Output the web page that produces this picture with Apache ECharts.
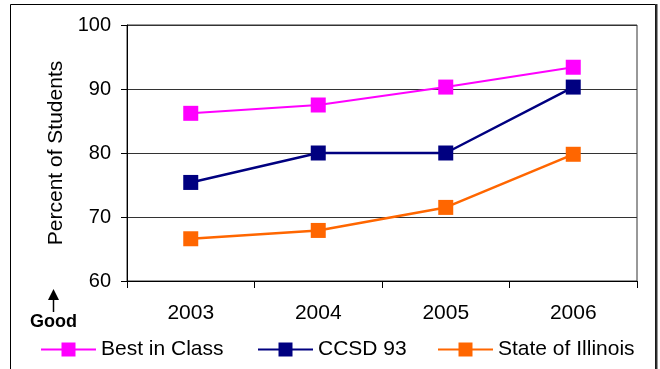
<!DOCTYPE html>
<html>
<head>
<meta charset="utf-8">
<script src="https://cdn.jsdelivr.net/npm/echarts@6/dist/echarts.min.js"></script>
<style>
  html, body { margin: 0; padding: 0; background: #fff; }
  #chart { width: 660px; height: 369px; }
</style>
</head>
<body>
<div id="chart"></div>
<script>
// Categories and values
const years = ['2003', '2004', '2005', '2006'];
const bestInClass = [86.2, 87.5, 90.3, 93.4];
const ccsd93 = [75.4, 80, 80, 90.3];
const stateOfIllinois = [66.6, 67.9, 71.5, 79.8];
const yTicks = [60, 70, 80, 90, 100];

const seriesNames = ['Best in Class', 'CCSD 93', 'State of Illinois'];
const seriesColors = ['#FF00FF', '#000080', '#FF6600'];
const seriesData = [bestInClass, ccsd93, stateOfIllinois];
const lineWidths = [2, 2.5, 2.5];
const legendLefts = [40, 257, 437];

const font = 'Arial, "Liberation Sans", sans-serif';

const chart = echarts.init(document.getElementById('chart'), null, { renderer: 'canvas' });

const option = {
  animation: false,
  backgroundColor: '#fff',
  textStyle: { fontFamily: font, color: '#000' },
  grid: {
    left: 127, top: 25, width: 510, height: 256,
    show: true, borderColor: '#333', borderWidth: 1, backgroundColor: 'transparent'
  },
  xAxis: {
    type: 'category',
    data: years,
    boundaryGap: true,
    axisLine: { show: true, lineStyle: { color: '#000', width: 1 } },
    axisTick: { show: true, length: 7, inside: false, lineStyle: { color: '#000' } },
    axisLabel: { fontSize: 21, color: '#000', margin: 22, fontFamily: font }
  },
  yAxis: {
    type: 'value',
    min: yTicks[0],
    max: yTicks[yTicks.length - 1],
    interval: 10,
    name: 'Percent of Students',
    nameLocation: 'middle',
    nameRotate: 90,
    nameGap: 60,
    nameTextStyle: { fontSize: 21, color: '#000', fontFamily: font },
    axisLine: { show: true, lineStyle: { color: '#000', width: 1 } },
    axisTick: { show: true, length: 6, inside: false, lineStyle: { color: '#000' } },
    axisLabel: { fontSize: 20, color: '#000', margin: 16, fontFamily: font },
    splitLine: { show: true, lineStyle: { color: '#333', width: 1 } }
  },
  legend: seriesNames.map((name, i) => ({
    data: [name],
    left: legendLefts[i],
    top: 339,
    padding: 0,
    itemWidth: 55,
    itemHeight: 17.5,
    itemGap: 5,
    textStyle: { fontSize: 21, color: '#000', fontFamily: font, padding: [0, 0, 0, 0] }
  })),
  series: seriesNames.map((name, i) => ({
    name: name,
    type: 'line',
    data: seriesData[i],
    symbol: 'rect',
    symbolSize: 15,
    showSymbol: true,
    lineStyle: { color: seriesColors[i], width: lineWidths[i] },
    itemStyle: { color: seriesColors[i], borderColor: seriesColors[i], borderWidth: 0 },
    emphasis: { disabled: true },
    z: 3 + (2 - i)
  })),
  graphic: [
    // Frame around the whole chart
    { type: 'rect', shape: { x: 10.5, y: 4.5, width: 645, height: 420 },
      style: { fill: 'none', stroke: '#000', lineWidth: 1 }, silent: true },
    { type: 'line', shape: { x1: 656.5, y1: 4, x2: 656.5, y2: 369 },
      style: { stroke: '#333', lineWidth: 2 }, silent: true },
    // "Good" arrow pointing up
    { type: 'line', shape: { x1: 53.5, y1: 312, x2: 53.5, y2: 298 },
      style: { stroke: '#000', lineWidth: 1.5 }, silent: true },
    { type: 'polygon', shape: { points: [[48, 300], [59, 300], [53.5, 289]] },
      style: { fill: '#000' }, silent: true },
    { type: 'text', left: 30, top: 313,
      style: { text: 'Good', font: 'bold 18px ' + font, fill: '#000' }, silent: true }
  ]
};

chart.setOption(option);
</script>
</body>
</html>
